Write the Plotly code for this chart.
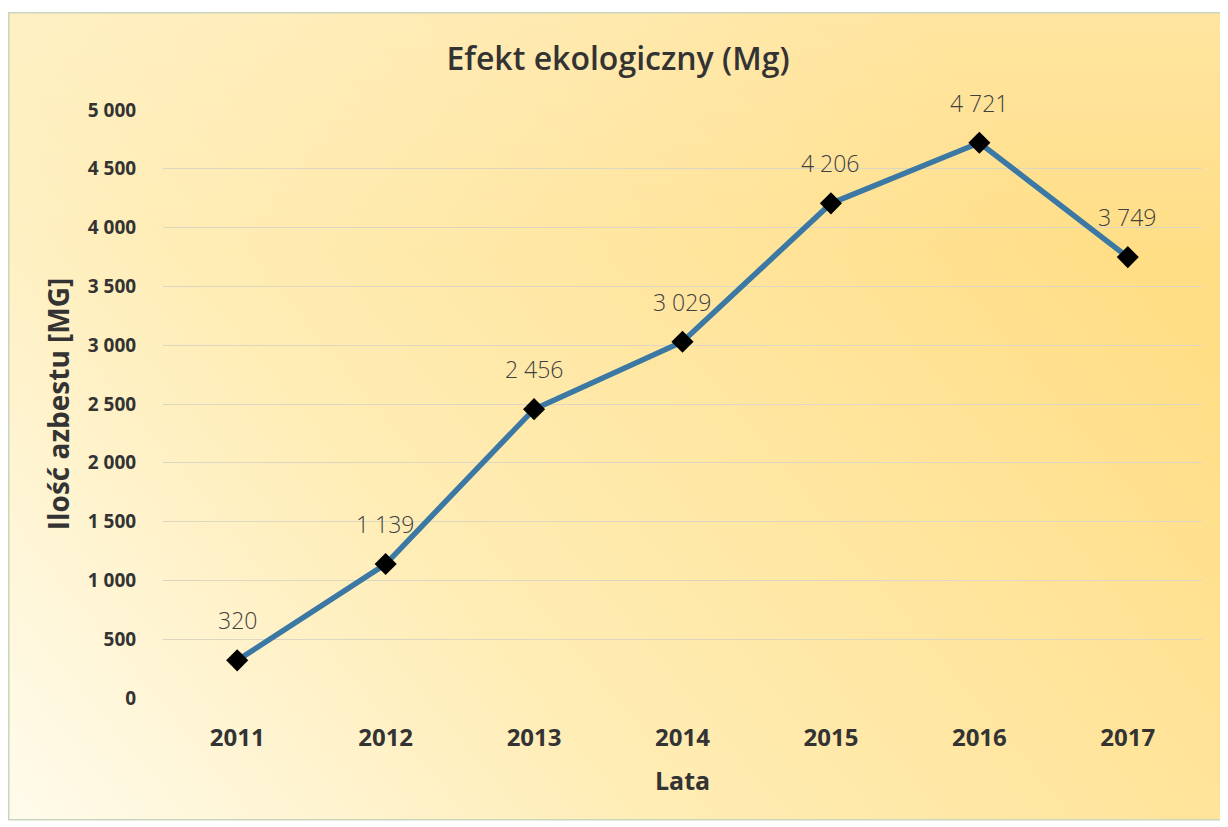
import base64
import plotly.graph_objects as go

years = ["2011", "2012", "2013", "2014", "2015", "2016", "2017"]
values = [320, 1139, 2456, 3029, 4206, 4721, 3749]
y_ticks = [0, 500, 1000, 1500, 2000, 2500, 3000, 3500, 4000, 4500, 5000]

W, H = 1220, 819
ML, MR, MT, MB = 155, 26, 102, 129
PW, PH = W - ML - MR, H - MT - MB

def fmt(v):
    return f"{v:,}".replace(",", " ")

svg = f'''<svg xmlns="http://www.w3.org/2000/svg" width="{W}" height="{H}" viewBox="0 0 {W} {H}" preserveAspectRatio="none">
<defs>
<linearGradient id="g" x1="0" y1="1" x2="1" y2="0.45">
<stop offset="0" stop-color="#FFFBEC"/>
<stop offset="0.4" stop-color="#FFEDB6"/>
<stop offset="0.75" stop-color="#FFE49B"/>
<stop offset="1" stop-color="#FFDE86"/>
</linearGradient>
<linearGradient id="t" x1="0" y1="0" x2="0" y2="1">
<stop offset="0" stop-color="#FFFFFF" stop-opacity="0.22"/>
<stop offset="0.3" stop-color="#FFFFFF" stop-opacity="0"/>
</linearGradient>
</defs>
<rect x="0" y="0" width="{W}" height="{H}" fill="#FFFFFF"/>
<rect x="0.75" y="4.75" width="1212" height="807" fill="url(#g)"/>
<rect x="0.75" y="4.75" width="1212" height="807" fill="url(#t)" stroke="#C9D6BC" stroke-width="1.5"/>
</svg>'''
src = "data:image/svg+xml;base64," + base64.b64encode(svg.encode()).decode()

fig = go.Figure()
fig.add_trace(go.Scatter(
    x=years, y=values, mode="lines+markers",
    line=dict(color="#3B78A4", width=5.5),
    marker=dict(symbol="diamond", size=17, color="#000000"),
    hoverinfo="skip", showlegend=False,
))

for i, v in enumerate(values):
    fig.add_annotation(x=i, y=v, xref="x", yref="y", text=fmt(v),
                       showarrow=False, yshift=40,
                       font=dict(family="Open Sans", size=23, color="#404040", weight=300))

fig.add_layout_image(dict(
    source=src, xref="paper", yref="paper",
    x=-ML / PW, y=1 + MT / PH, sizex=W / PW, sizey=H / PH,
    xanchor="left", yanchor="top", sizing="stretch", layer="below",
))

fig.update_layout(
    width=W, height=H,
    margin=dict(l=ML, r=MR, t=MT, b=MB),
    paper_bgcolor="#FFFFFF", plot_bgcolor="rgba(0,0,0,0)",
    separators=", ",
    title=dict(text="Efekt ekologiczny (Mg)", x=0.5, xanchor="center",
               y=1 - 51 / H, yanchor="middle",
               font=dict(family="Open Sans", size=32, color="#333333", weight=600)),
    xaxis=dict(
        type="category", range=[-0.5, 6.5], showgrid=False, zeroline=False,
        showline=False, ticks="outside", ticklen=18, tickcolor="rgba(0,0,0,0)",
        tickfont=dict(family="Open Sans", size=24, color="#333333", weight="bold"),
        title=dict(text="Lata", standoff=20,
                   font=dict(family="Open Sans", size=25, color="#333333", weight="bold")),
    ),
    yaxis=dict(
        range=[0, 5000], tickvals=y_ticks, tickformat=",d",
        showgrid=True, gridcolor="#DCD6C2", gridwidth=1.2,
        zeroline=False, showline=False,
        ticks="outside", ticklen=22, tickcolor="rgba(0,0,0,0)",
        tickfont=dict(family="Open Sans", size=19, color="#333333", weight="bold"),
        title=dict(text="Ilość azbestu [MG]", standoff=10,
                   font=dict(family="Open Sans", size=28, color="#333333", weight="bold")),
    ),
)

fig.write_html("out.html")
